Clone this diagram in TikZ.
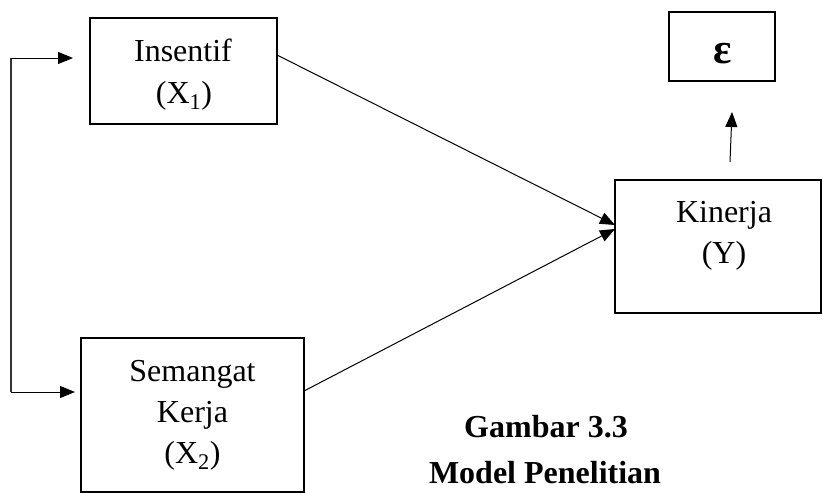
\documentclass[tikz,border=0pt]{standalone}
\usepackage{fontspec}
\setmainfont{Liberation Serif}
\usetikzlibrary{arrows.meta}
\begin{document}
\begin{tikzpicture}[x=1pt,y=-1pt,
  box/.style={draw,line width=1.8pt,inner sep=0pt,outer sep=0pt},
  arr/.style={line width=1pt,-{Triangle[length=15pt,width=12pt]}},
  lbl/.style={inner sep=0pt,anchor=base,font=\fontsize{32}{38}\selectfont},
  boldtxt/.style={inner sep=0pt,anchor=base,font=\fontsize{32}{38}\selectfont\bfseries}]
\fill[white] (0,0) rectangle (823,493);
\useasboundingbox (0,0) rectangle (823,493);
% boxes
\node[box,minimum width=187pt,minimum height=106pt] (ins) at (183.5,71) {};
\node[box,minimum width=223pt,minimum height=154pt] (sem) at (192.5,415) {};
\node[box,minimum width=206pt,minimum height=133pt] (kin) at (718,246.5) {};
\node[box,minimum width=106pt,minimum height=69pt] (eps) at (722,46.5) {};
% texts
\node[lbl] (insA) at (183,61) {Insentif};
\node[lbl] (insB) at (184,103) {(X\textsubscript{1})};
\node[lbl] (semA) at (192.5,381) {Semangat};
\node[lbl] (semB) at (192.5,422) {Kerja};
\node[lbl] (semC) at (192.5,463) {(X\textsubscript{2})};
\node[lbl] (kinA) at (724,222) {Kinerja};
\node[lbl] (kinB) at (724,263) {(Y)};
\node[boldtxt,font=\fontsize{43}{48}\selectfont\bfseries] (epsA) at (722.5,63) {ε};
\node[boldtxt] (capA) at (546,437) {Gambar 3.3};
\node[boldtxt] (capB) at (545,483) {Model Penelitian};
% left spine
\coordinate (sTop) at (11,58);
\coordinate (sBot) at (11,392);
\draw[line width=1.2pt,black!80] (sTop) -- (sBot);
\draw[arr,shorten >=17pt] (sTop) -- (ins.west |- sTop);
\draw[arr,shorten >=6pt] (sBot) -- (sem.west |- sBot);
% paths into Kinerja
\draw[arr] ([yshift=16pt]ins.east) -- ([yshift=21.5pt]kin.west);
\draw[arr] ([yshift=24pt]sem.east) -- ([yshift=17.5pt]kin.west);
% Kinerja to epsilon
\draw[arr] ([xshift=12pt,yshift=18pt]kin.north) -- ([xshift=10pt,yshift=-31pt]eps.south);
\end{tikzpicture}
\end{document}
